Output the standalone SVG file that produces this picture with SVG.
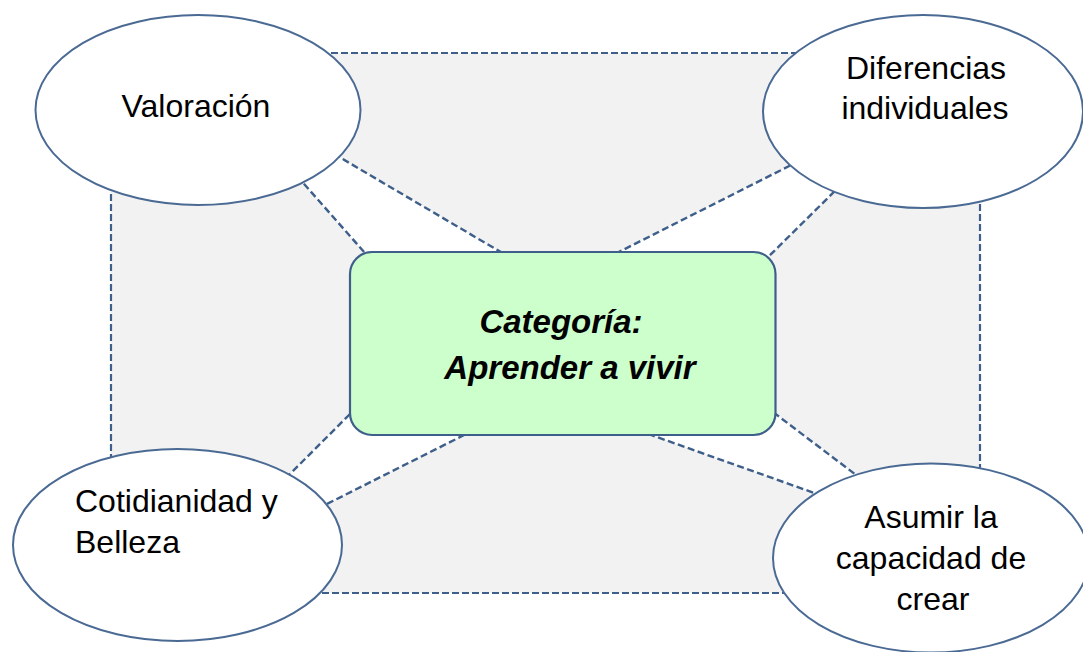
<svg xmlns="http://www.w3.org/2000/svg" width="1083" height="652" viewBox="0 0 1083 652">
<style>
.frame{fill:#f2f2f2;stroke:#3e5f8a;stroke-width:2.2;stroke-dasharray:7 3}
.conn{fill:#ffffff;stroke:#3e5f8a;stroke-width:2.4;stroke-dasharray:7 3.5}
.ell{fill:#ffffff;stroke:#4a6a94;stroke-width:2}
.core{fill:#ccffcc;stroke:#3e5f8a;stroke-width:2.2}
.t{font-family:"Liberation Sans",Arial,sans-serif;font-size:32px;fill:#000000}
.tc{font-family:"Liberation Sans",Arial,sans-serif;font-size:33px;font-weight:bold;font-style:italic;fill:#000000}
</style>
<rect class="frame" x="111" y="53" width="869" height="540"/>
<g id="connectors">
<polygon class="conn" points="290,168 372,261 516,261 329,151"/>
<polygon class="conn" points="809,156 605,259 757,268 845,181"/>
<polygon class="conn" points="278,486 361,403 478,428 311,512"/>
<polygon class="conn" points="765,406 868,484 834,500 640,431"/>
</g>
<g id="valoracion">
<ellipse class="ell" cx="198" cy="110" rx="162.5" ry="95"/>
<text class="t" x="196" y="117" text-anchor="middle">Valoración</text>
</g>
<g id="diferencias">
<ellipse class="ell" cx="923" cy="111.5" rx="160" ry="96.5"/>
<text class="t" x="926" y="79" text-anchor="middle">Diferencias</text>
<text class="t" x="925" y="119" text-anchor="middle">individuales</text>
</g>
<g id="cotidianidad">
<ellipse class="ell" cx="177.5" cy="545" rx="164.5" ry="96"/>
<text class="t" x="75" y="512">Cotidianidad y</text>
<text class="t" x="75" y="553">Belleza</text>
</g>
<g id="asumir">
<ellipse class="ell" cx="931" cy="558" rx="158" ry="94.5"/>
<text class="t" x="931" y="528" text-anchor="middle">Asumir la</text>
<text class="t" x="931" y="569" text-anchor="middle">capacidad de</text>
<text class="t" x="933" y="610" text-anchor="middle">crear</text>
</g>
<g id="categoria">
<rect class="core" x="350" y="252" width="425.5" height="183" rx="22" ry="22"/>
<text class="tc" x="561" y="333" text-anchor="middle">Categoría:</text>
<text class="tc" x="570" y="379" text-anchor="middle">Aprender a vivir</text>
</g>
</svg>
